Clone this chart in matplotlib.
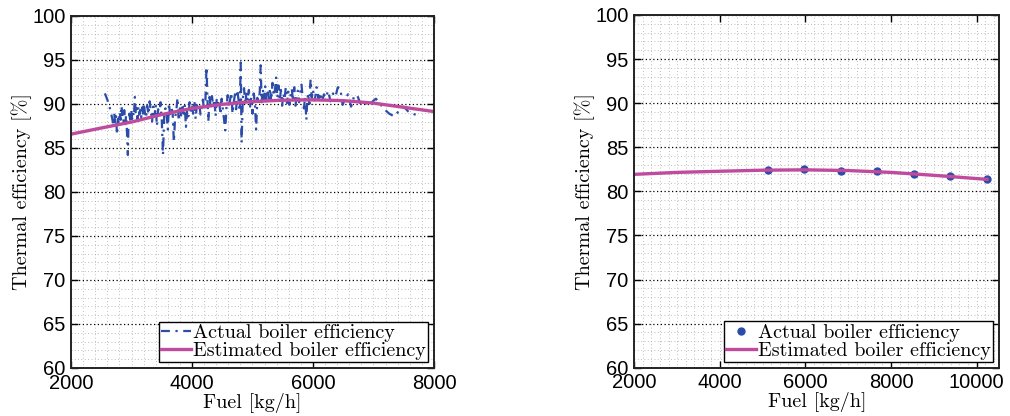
import numpy as np
import matplotlib
matplotlib.use("Agg")
import matplotlib.pyplot as plt
from matplotlib.ticker import MultipleLocator

# ---------------------------------------------------------------------------
# data
# ---------------------------------------------------------------------------

# left panel: measured efficiency (noisy, sorted by fuel flow)
fuel_actual_1 = [
    2560, 2600, 2640, 2680, 2700, 2715, 2730, 2745, 2760, 2775, 2790, 2805,
    2820, 2835, 2850, 2865, 2880, 2895, 2910, 2925, 2940, 2950, 2965, 2980,
    2995, 3010, 3025, 3040, 3055, 3070, 3085, 3100, 3115, 3130, 3145, 3160,
    3175, 3190, 3205, 3220, 3240, 3260, 3280, 3300, 3320, 3340, 3360, 3380,
    3400, 3420, 3440, 3460, 3480, 3500, 3520, 3540, 3560, 3580, 3600, 3620,
    3640, 3660, 3680, 3700, 3720, 3740, 3760, 3780, 3800, 3820, 3840, 3860,
    3880, 3900, 3920, 3940, 3960, 3980, 4000, 4020, 4040, 4060, 4080, 4100,
    4120, 4140, 4160, 4180, 4200, 4220, 4240, 4255, 4270, 4290, 4310, 4330,
    4350, 4370, 4390, 4410, 4430, 4450, 4470, 4490, 4510, 4530, 4550, 4570,
    4590, 4610, 4630, 4650, 4670, 4690, 4710, 4730, 4750, 4770, 4790, 4805,
    4820, 4840, 4860, 4880, 4900, 4920, 4940, 4960, 4980, 5000, 5020, 5040,
    5060, 5080, 5100, 5120, 5135, 5150, 5170, 5190, 5210, 5230, 5250, 5270,
    5290, 5310, 5330, 5350, 5370, 5390, 5410, 5430, 5450, 5470, 5490, 5510,
    5530, 5550, 5570, 5590, 5610, 5630, 5650, 5670, 5690, 5710, 5730, 5750,
    5770, 5790, 5810, 5830, 5850, 5870, 5890, 5905, 5920, 5940, 5960, 5980,
    6000, 6030, 6060, 6090, 6120, 6150, 6180, 6210, 6250, 6290, 6330, 6370,
    6410, 6450, 6490, 6530, 6580, 6630, 6680, 6730, 6780, 6840, 6900, 6970,
    7040, 7110, 7180, 7260, 7340, 7420, 7500, 7580, 7650, 7720,
]
eff_actual_1 = [
    91.2, 90.5, 89.6, 88.4, 87.6, 88.9, 87.9, 88.6, 86.5, 88.3, 87.8, 89.1,
    88.2, 89.8, 88.5, 88.0, 89.3, 87.4, 88.7, 86.9, 84.2, 87.8, 88.9, 88.1,
    89.4, 88.3, 89.0, 88.6, 90.8, 88.9, 89.5, 88.2, 89.7, 88.8, 89.3, 88.5,
    89.6, 88.9, 90.1, 89.1, 88.4, 89.8, 88.8, 90.3, 89.2, 88.0, 89.7, 88.6,
    89.9, 87.5, 89.4, 88.7, 90.2, 88.3, 84.2, 88.6, 89.5, 88.9, 87.1, 90.1,
    88.5, 89.6, 89.0, 85.7, 88.4, 89.2, 90.7, 88.1, 89.5, 88.7, 90.0, 88.9,
    89.8, 87.4, 89.3, 88.6, 90.2, 89.1, 89.7, 88.9, 90.4, 88.3, 89.9, 89.4,
    90.1, 88.8, 89.6, 90.5, 89.3, 90.0, 94.2, 90.6, 88.0, 90.8, 89.5, 90.9,
    89.8, 90.5, 88.6, 90.7, 89.9, 90.3, 88.8, 90.6, 89.4, 88.1, 87.0, 89.7,
    91.0, 89.6, 90.5, 91.3, 88.9, 90.2, 91.1, 89.4, 91.6, 90.4, 89.2, 94.7,
    85.6, 90.6, 91.8, 89.9, 91.3, 90.4, 91.6, 89.7, 90.8, 88.9, 91.2, 90.0,
    87.1, 90.7, 89.8, 91.4, 94.4, 90.2, 91.7, 90.5, 92.0, 89.9, 91.3, 90.6,
    91.8, 90.3, 92.4, 90.9, 91.5, 93.0, 90.7, 92.1, 90.4, 91.6, 89.8, 91.2,
    90.5, 91.9, 90.1, 91.4, 89.9, 91.0, 91.7, 90.3, 91.9, 89.8, 90.9, 91.5,
    90.2, 91.3, 92.2, 90.6, 89.5, 90.8, 88.2, 90.4, 91.2, 90.0, 92.8, 90.7,
    91.6, 90.4, 91.9, 90.6, 91.3, 90.2, 91.1, 90.7, 91.5, 90.3, 91.2, 90.8,
    91.9, 91.8, 89.9, 90.6, 91.1, 89.7, 90.9, 91.0, 90.1, 90.4, 89.8, 90.2,
    90.6, 90.0, 89.4, 88.9, 88.6, 89.2, 89.7, 89.1, 88.9, 88.7,
]

# left panel: estimated efficiency curve
fuel_est_1 = [2000, 2500, 3000, 3500, 4000, 4500, 5000, 5500, 6000, 6500,
              7000, 7500, 8000]
eff_est_1 = [86.57, 87.27, 87.95, 88.8, 89.5, 89.96, 90.28, 90.43, 90.47,
             90.38, 90.1, 89.62, 89.14]

# right panel: measured points and estimated curve
fuel_actual_2 = [5118, 5974, 6830, 7678, 8534, 9388, 10245]
eff_actual_2 = [82.43, 82.5, 82.35, 82.27, 81.94, 81.75, 81.37]

fuel_est_2 = [2000, 3000, 4000, 5000, 6000, 7000, 8000, 9000, 10245]
eff_est_2 = [81.93, 82.15, 82.28, 82.40, 82.44, 82.36, 82.15, 81.82, 81.36]

# ---------------------------------------------------------------------------

BLUE = "#2b4ca8"
MAGENTA = "#c04a9e"
TICK_FONT = "Liberation Sans"
TEX_FONT = "cmr10"

fig = plt.figure(figsize=(10.10, 4.16), dpi=100)
ax1 = fig.add_axes([0.0703, 0.1154, 0.3594, 0.8462])
ax2 = fig.add_axes([0.6280, 0.1160, 0.3614, 0.8480])


def style_axes(ax, xmax, xticks):
    ax.set_xlim(2000, xmax)
    ax.set_ylim(60, 100)
    ax.set_xticks(xticks)
    ax.set_yticks(range(60, 101, 5))
    ax.xaxis.set_minor_locator(MultipleLocator(200))
    ax.yaxis.set_minor_locator(MultipleLocator(1))
    # black dotted majors only across y; x majors look like the minor grid
    ax.grid(which="major", axis="y", linestyle=(0, (1, 2)), color="black",
            linewidth=0.9)
    ax.grid(which="major", axis="x", linestyle=(0, (1, 3)), color="#a8a8a8",
            linewidth=0.6)
    ax.grid(which="minor", linestyle=(0, (1, 3)), color="#a8a8a8", linewidth=0.6)
    ax.set_axisbelow(True)
    ax.tick_params(which="both", direction="in", top=True, right=True)
    ax.tick_params(which="minor", length=0)
    ax.tick_params(which="major", length=5, width=1, labelsize=14.5, pad=4)
    for lab in ax.get_xticklabels() + ax.get_yticklabels():
        lab.set_fontfamily(TICK_FONT)
    for sp in ax.spines.values():
        sp.set_linewidth(1.4)
        sp.set_color("#222222")
    ax.set_xlabel("Fuel [kg/h]", fontfamily=TEX_FONT, fontsize=14.5, labelpad=0)
    ax.set_ylabel("Thermal efficiency [%]", fontfamily=TEX_FONT, fontsize=14.5,
                  labelpad=0)


# left panel
ax1.plot(fuel_actual_1, eff_actual_1, linestyle=(0, (4, 2.5, 1, 2.5)),
         color=BLUE, linewidth=1.6, label="Actual boiler efficiency")
ax1.plot(fuel_est_1, eff_est_1, "-", color=MAGENTA, linewidth=2.4,
         label="Estimated boiler efficiency")
style_axes(ax1, 8000, [2000, 4000, 6000, 8000])

# right panel
ax2.plot(fuel_actual_2, eff_actual_2, "o", color=BLUE, markersize=5,
         label="Actual boiler efficiency")
ax2.plot(fuel_est_2, eff_est_2, "-", color=MAGENTA, linewidth=2.4,
         label="Estimated boiler efficiency")
style_axes(ax2, 10530, [2000, 4000, 6000, 8000, 10000])

for ax in (ax1, ax2):
    leg = ax.legend(loc="lower right", prop={"family": TEX_FONT, "size": 14.5},
                    fancybox=False, edgecolor="black", framealpha=1,
                    borderaxespad=0.3, borderpad=0.1, labelspacing=0.0,
                    handlelength=1.5, handletextpad=0.1)
    leg.get_frame().set_linewidth(1.0)

fig.savefig("out.png", dpi=100)
